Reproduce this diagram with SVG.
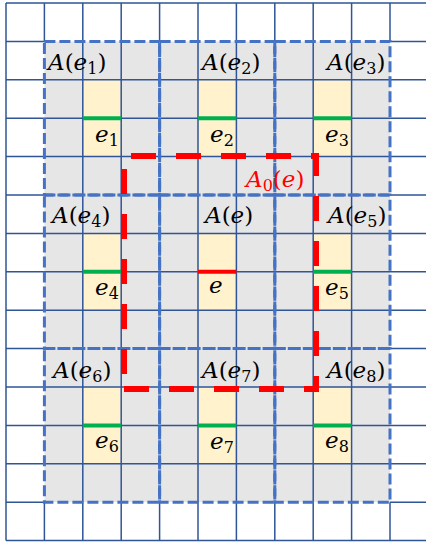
<svg xmlns="http://www.w3.org/2000/svg" width="426" height="542" viewBox="0 0 426 542">
<style>
.grid{stroke:#2F5597;stroke-width:1.5;fill:none}
.blk{fill:none;stroke:#4472C4;stroke-width:3;stroke-dasharray:11 4}
.yel{fill:#FFF2CC}
.g{stroke:#00B050;stroke-width:4}
.r{stroke:#FF0000;stroke-width:4}
text{font-family:"DejaVu Serif","Liberation Serif",serif;font-size:23px;fill:#000}
.i{font-style:italic}
.s{font-size:16px}
.red{fill:#FF0000}
</style>
<rect width="426" height="542" fill="#FFFFFF"/>
<rect x="44.4" y="41.4" width="345.6" height="460.8" fill="#E7E6E6"/>
<g id="cells">
<rect class="yel" x="82.8" y="79.8" width="38.4" height="76.8"/>
<rect class="yel" x="198" y="79.8" width="38.4" height="76.8"/>
<rect class="yel" x="313.2" y="79.8" width="38.4" height="76.8"/>
<rect class="yel" x="82.8" y="233.4" width="38.4" height="76.8"/>
<rect class="yel" x="198" y="233.4" width="38.4" height="76.8"/>
<rect class="yel" x="313.2" y="233.4" width="38.4" height="76.8"/>
<rect class="yel" x="82.8" y="387" width="38.4" height="76.8"/>
<rect class="yel" x="198" y="387" width="38.4" height="76.8"/>
<rect class="yel" x="313.2" y="387" width="38.4" height="76.8"/>
</g>
<path class="grid" d="M6 3V540.6M82.8 3V540.6M121.2 3V540.6M198 3V540.6M236.4 3V540.6M313.2 3V540.6M351.6 3V540.6
M44.4 3V41.4M44.4 502.2V540.6M159.6 3V41.4M159.6 502.2V540.6M274.8 3V41.4M274.8 502.2V540.6M390 3V41.4M390 502.2V540.6
M6 3H426M6 79.8H426M6 118.2H426M6 156.6H426M6 233.4H426M6 271.8H426M6 310.2H426M6 387H426M6 425.4H426M6 463.8H426M6 540.6H426
M6 41.4H44.4M390 41.4H426M6 195H44.4M390 195H426M6 348.6H44.4M390 348.6H426M6 502.2H44.4M390 502.2H426"/>
<g id="blocks">
<rect class="blk" x="44.4" y="41.4" width="115.2" height="153.6"/>
<rect class="blk" x="159.6" y="41.4" width="115.2" height="153.6"/>
<rect class="blk" x="274.8" y="41.4" width="115.2" height="153.6"/>
<rect class="blk" x="44.4" y="195" width="115.2" height="153.6"/>
<rect class="blk" x="159.6" y="195" width="115.2" height="153.6"/>
<rect class="blk" x="274.8" y="195" width="115.2" height="153.6"/>
<rect class="blk" x="44.4" y="348.6" width="115.2" height="153.6"/>
<rect class="blk" x="159.6" y="348.6" width="115.2" height="153.6"/>
<rect class="blk" x="274.8" y="348.6" width="115.2" height="153.6"/>
</g>
<g id="edges">
<line class="g" x1="82.8" y1="118.2" x2="121.2" y2="118.2"/>
<line class="g" x1="198" y1="118.2" x2="236.4" y2="118.2"/>
<line class="g" x1="313.2" y1="118.2" x2="351.6" y2="118.2"/>
<line class="g" x1="82.8" y1="271.8" x2="121.2" y2="271.8"/>
<line class="r" x1="198" y1="271.8" x2="236.4" y2="271.8"/>
<line class="g" x1="313.2" y1="271.8" x2="351.6" y2="271.8"/>
<line class="g" x1="82.8" y1="425.4" x2="121.2" y2="425.4"/>
<line class="g" x1="198" y1="425.4" x2="236.4" y2="425.4"/>
<line class="g" x1="313.2" y1="425.4" x2="351.6" y2="425.4"/>
</g>
<g id="connectors">
<path d="M124 389H316V156H124Z" fill="none" stroke="#FF0000" stroke-width="6" stroke-dasharray="25 20"/>
</g>
<g id="labels">
<text x="48" y="70"><tspan class="i">A</tspan>(<tspan class="i">e</tspan><tspan class="s" dy="4">1</tspan><tspan dy="-4">)</tspan></text>
<text x="202" y="70"><tspan class="i">A</tspan>(<tspan class="i">e</tspan><tspan class="s" dy="4">2</tspan><tspan dy="-4">)</tspan></text>
<text x="327" y="70"><tspan class="i">A</tspan>(<tspan class="i">e</tspan><tspan class="s" dy="4">3</tspan><tspan dy="-4">)</tspan></text>
<text x="52" y="223"><tspan class="i">A</tspan>(<tspan class="i">e</tspan><tspan class="s" dy="4">4</tspan><tspan dy="-4">)</tspan></text>
<text x="205" y="223"><tspan class="i">A</tspan>(<tspan class="i">e</tspan>)</text>
<text x="328" y="223"><tspan class="i">A</tspan>(<tspan class="i">e</tspan><tspan class="s" dy="4">5</tspan><tspan dy="-4">)</tspan></text>
<text x="53" y="378"><tspan class="i">A</tspan>(<tspan class="i">e</tspan><tspan class="s" dy="4">6</tspan><tspan dy="-4">)</tspan></text>
<text x="202" y="378"><tspan class="i">A</tspan>(<tspan class="i">e</tspan><tspan class="s" dy="4">7</tspan><tspan dy="-4">)</tspan></text>
<text x="327" y="378"><tspan class="i">A</tspan>(<tspan class="i">e</tspan><tspan class="s" dy="4">8</tspan><tspan dy="-4">)</tspan></text>
<text x="95" y="142"><tspan class="i">e</tspan><tspan class="s" dy="4">1</tspan></text>
<text x="210" y="142"><tspan class="i">e</tspan><tspan class="s" dy="4">2</tspan></text>
<text x="325" y="142"><tspan class="i">e</tspan><tspan class="s" dy="4">3</tspan></text>
<text x="95" y="295"><tspan class="i">e</tspan><tspan class="s" dy="4">4</tspan></text>
<text x="209" y="293" class="i">e</text>
<text x="325" y="295"><tspan class="i">e</tspan><tspan class="s" dy="4">5</tspan></text>
<text x="95" y="448"><tspan class="i">e</tspan><tspan class="s" dy="4">6</tspan></text>
<text x="210" y="449"><tspan class="i">e</tspan><tspan class="s" dy="4">7</tspan></text>
<text x="325" y="448"><tspan class="i">e</tspan><tspan class="s" dy="4">8</tspan></text>
<text x="246" y="187" class="red"><tspan class="i">A</tspan><tspan class="s" dy="4">0</tspan><tspan dy="-4">(</tspan><tspan class="i">e</tspan>)</text>
</g>
</svg>
